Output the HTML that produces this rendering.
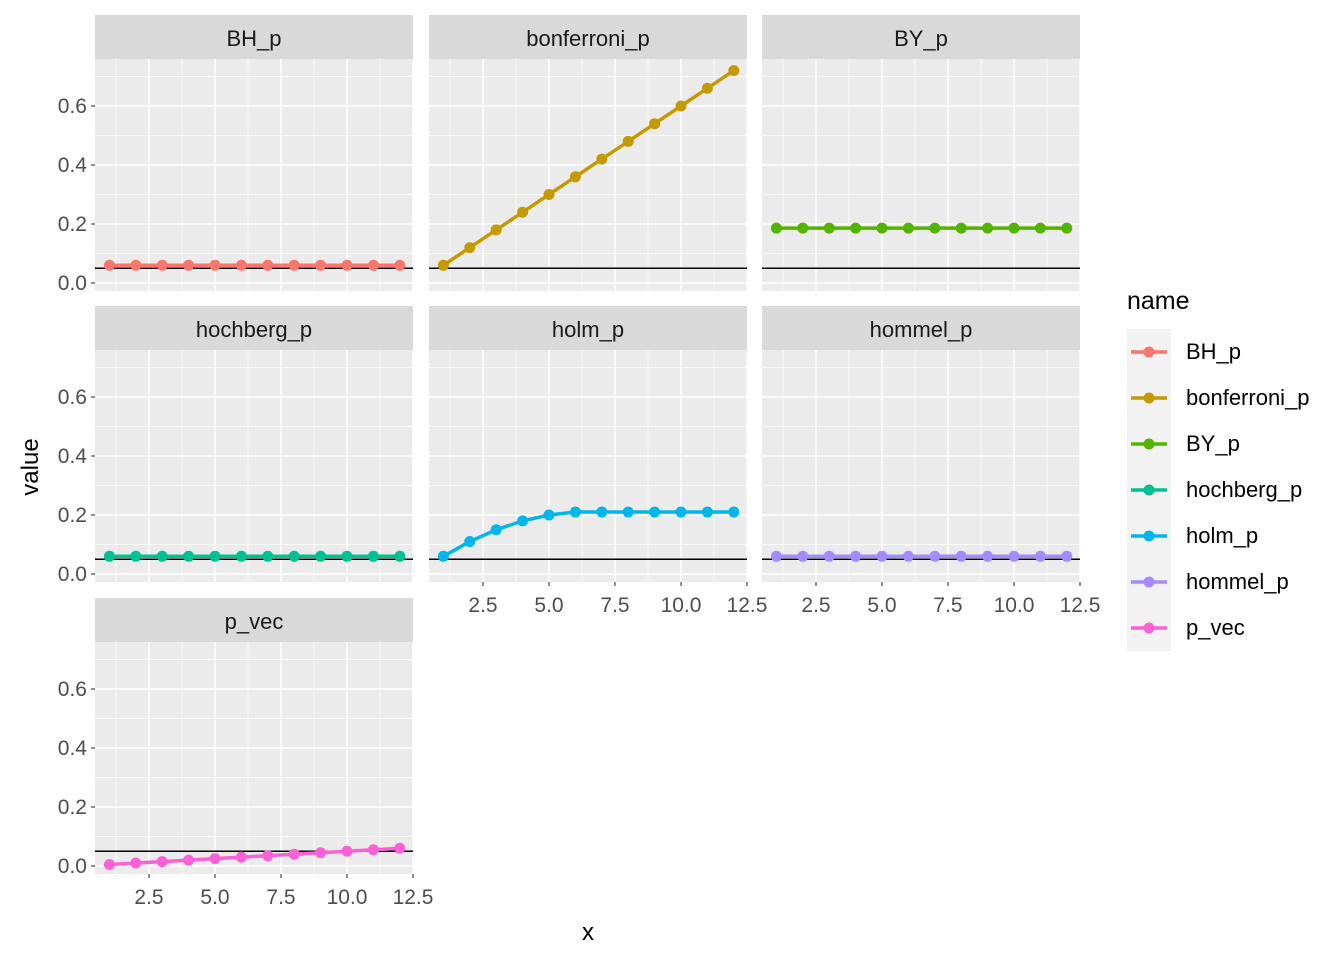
<!DOCTYPE html>
<html><head><meta charset="utf-8"><style>
body{margin:0;background:#fff;}
svg text{font-family:"Liberation Sans",Arial,sans-serif;}
</style></head><body>
<svg id="chart" width="1344" height="960" xmlns="http://www.w3.org/2000/svg"></svg>
<script>
const seriesNames=["BH_p","bonferroni_p","BY_p","hochberg_p","holm_p","hommel_p","p_vec"];
const colors=["#F8766D","#C49A00","#53B400","#00C094","#00B6EB","#A58AFF","#FB61D7"];
const xValues=[1,2,3,4,5,6,7,8,9,10,11,12];
const BH_p=[0.06,0.06,0.06,0.06,0.06,0.06,0.06,0.06,0.06,0.06,0.06,0.06];
const bonferroni_p=[0.06,0.12,0.18,0.24,0.30,0.36,0.42,0.48,0.54,0.60,0.66,0.72];
const BY_p=[0.186,0.186,0.186,0.186,0.186,0.186,0.186,0.186,0.186,0.186,0.186,0.186];
const hochberg_p=[0.06,0.06,0.06,0.06,0.06,0.06,0.06,0.06,0.06,0.06,0.06,0.06];
const holm_p=[0.06,0.11,0.15,0.18,0.20,0.21,0.21,0.21,0.21,0.21,0.21,0.21];
const hommel_p=[0.06,0.06,0.06,0.06,0.06,0.06,0.06,0.06,0.06,0.06,0.06,0.06];
const p_vec=[0.005,0.01,0.015,0.02,0.025,0.03,0.035,0.04,0.045,0.05,0.055,0.06];
const seriesValues=[BH_p,bonferroni_p,BY_p,hochberg_p,holm_p,hommel_p,p_vec];
const threshold=0.05;
const yTicks=[0,0.2,0.4,0.6];
const yTickLabels=["0.0","0.2","0.4","0.6"];
const xTicks=[2.5,5,7.5,10,12.5];
const xTickLabels=["2.5","5.0","7.5","10.0","12.5"];

const svg=document.getElementById('chart');
const NS="http://www.w3.org/2000/svg";
function mk(t,a,p){const e=document.createElementNS(NS,t);for(const k in a)e.setAttribute(k,a[k]);(p||svg).appendChild(e);return e;}
const colX=[95,429,762], panelW=318;
const rowStrip=[15,306,598], stripH=44;
function yScale(v,r){const top=rowStrip[r]+stripH;return top+224-v*295;}
function xScale(v,c){return colX[c]+14.4+(v-1)*26.4;}
seriesNames.forEach((nm,i)=>{
  const c=i%3,r=Math.floor(i/3);
  const g=mk('g',{});
  
  
  const x0=colX[c],top=rowStrip[r]+stripH,h=232;
  const strip=mk('rect',{x:x0,y:rowStrip[r],width:panelW,height:stripH,fill:'#D9D9D9'},g);
  
  const st=mk('text',{x:x0+panelW/2,y:rowStrip[r]+31,'text-anchor':'middle','font-size':'22','fill':'#1A1A1A'},g);
  st.textContent=nm;
  mk('rect',{x:x0,y:top,width:panelW,height:h,fill:'#EBEBEB'},g);
  for(let k=0;k<4;k++){const y=yScale(yTicks[k]+0.1,r);mk('line',{x1:x0,x2:x0+panelW,y1:y,y2:y,stroke:'#fff','stroke-width':0.7},g);}
  for(let k=0;k<5;k++){const x=xScale(xTicks[k]-1.25,c);mk('line',{x1:x,x2:x,y1:top,y2:top+h,stroke:'#fff','stroke-width':0.7},g);}
  yTicks.forEach(v=>{const y=yScale(v,r);mk('line',{x1:x0,x2:x0+panelW,y1:y,y2:y,stroke:'#fff','stroke-width':1.4},g);});
  xTicks.forEach(v=>{const x=xScale(v,c);if(x<=x0+panelW)mk('line',{x1:x,x2:x,y1:top,y2:top+h,stroke:'#fff','stroke-width':1.4},g);});
  const ty=yScale(threshold,r);
  const hl=mk('line',{x1:x0,x2:x0+panelW,y1:ty,y2:ty,stroke:'#000','stroke-width':1.4},g);
  
  const vals=seriesValues[i];
  const pts=xValues.map((x,k)=>xScale(x,c)+','+yScale(vals[k],r)).join(' ');
  const pl=mk('polyline',{points:pts,fill:'none',stroke:colors[i],'stroke-width':3.5},g);
  
  xValues.forEach((x,k)=>{const p=mk('circle',{cx:xScale(x,c),cy:yScale(vals[k],r),r:5.5,fill:colors[i]},g);
    });
  if(c===0){yTicks.forEach((v,k)=>{const y=yScale(v,r);mk('line',{x1:x0-4,x2:x0,y1:y,y2:y,stroke:'#333','stroke-width':1.1},g);
    const t=mk('text',{x:x0-8,y:y+7,'text-anchor':'end','font-size':'21',fill:'#4D4D4D'},g);t.textContent=yTickLabels[k];
    });}
  if(i>=4){xTicks.forEach((v,k)=>{const x=xScale(v,c);const yb=top+h;mk('line',{x1:x,x2:x,y1:yb,y2:yb+4,stroke:'#333','stroke-width':1.1},g);
    const t=mk('text',{x:x,y:yb+30,'text-anchor':'middle','font-size':'21',fill:'#4D4D4D'},g);t.textContent=xTickLabels[k];
    });}
});
const yl=mk('text',{x:0,y:0,transform:'translate(38,467) rotate(-90)','text-anchor':'middle','font-size':'24',fill:'#000'});
yl.textContent='value';
const xl=mk('text',{x:588,y:940,'text-anchor':'middle','font-size':'24',fill:'#000'});
xl.textContent='x';
const lg=mk('g',{});
const lt=mk('text',{x:1127,y:309,'font-size':'25',fill:'#000'},lg);lt.textContent='name';

seriesNames.forEach((nm,i)=>{
  const y=329+i*46;
  const e=mk('g',{},lg);
  mk('rect',{x:1127,y:y,width:44,height:46,fill:'#F2F2F2'},e);
  mk('line',{x1:1131,x2:1167,y1:y+23,y2:y+23,stroke:colors[i],'stroke-width':3.5},e);
  mk('circle',{cx:1149,cy:y+23,r:5.5,fill:colors[i]},e);
  const t=mk('text',{x:1186,y:y+30,'font-size':'22',fill:'#000'},e);t.textContent=nm;
});
</script>
</body></html>
